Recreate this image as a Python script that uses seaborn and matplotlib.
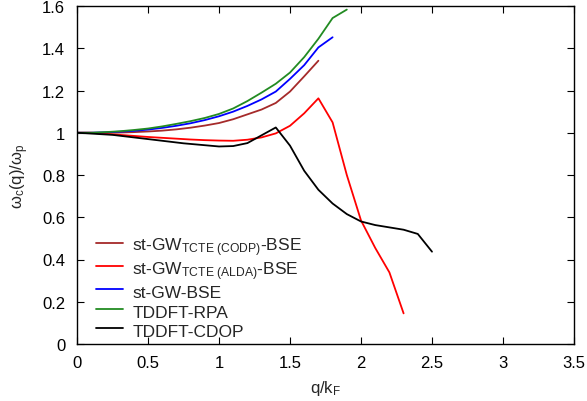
import matplotlib
matplotlib.use("Agg")
import matplotlib.pyplot as plt
import seaborn as sns
import pandas as pd

# ---- data ----
q_green = [0.0, 0.1, 0.2, 0.3, 0.4, 0.5, 0.6, 0.7, 0.8, 0.9, 1.0, 1.1, 1.2, 1.3, 1.4, 1.5, 1.6, 1.7, 1.8, 1.9]
tddft_rpa = [1.0, 1.0, 1.003, 1.007, 1.013, 1.02, 1.03, 1.042, 1.055, 1.07, 1.089, 1.115, 1.15, 1.19, 1.232, 1.285, 1.358, 1.445, 1.543, 1.583]

q_blue = [0.0, 0.1, 0.2, 0.3, 0.4, 0.5, 0.6, 0.7, 0.8, 0.9, 1.0, 1.1, 1.2, 1.3, 1.4, 1.5, 1.6, 1.7, 1.8]
st_gw_bse = [1.0, 1.0, 1.002, 1.005, 1.009, 1.015, 1.023, 1.033, 1.045, 1.06, 1.078, 1.1, 1.127, 1.158, 1.195, 1.255, 1.32, 1.404, 1.452]

q_brown = [0.0, 0.1, 0.2, 0.3, 0.4, 0.5, 0.6, 0.7, 0.8, 0.9, 1.0, 1.1, 1.2, 1.3, 1.4, 1.5, 1.6, 1.7]
st_gw_codp = [1.0, 1.0, 1.0, 1.001, 1.003, 1.006, 1.01, 1.016, 1.024, 1.034, 1.046, 1.064, 1.087, 1.11, 1.141, 1.195, 1.267, 1.341]

q_red = [0.0, 0.1, 0.2, 0.3, 0.4, 0.5, 0.6, 0.7, 0.8, 0.9, 1.0, 1.1, 1.2, 1.3, 1.4, 1.5, 1.6, 1.7, 1.8, 1.9, 2.0, 2.1, 2.2, 2.3]
st_gw_alda = [1.0, 1.0, 0.995, 0.99, 0.985, 0.98, 0.976, 0.972, 0.968, 0.965, 0.963, 0.962, 0.967, 0.978, 0.997, 1.033, 1.092, 1.163, 1.049, 0.8, 0.585, 0.455, 0.339, 0.145]

q_black = [0.0, 0.25, 0.5, 0.75, 1.0, 1.1, 1.2, 1.4, 1.5, 1.6, 1.7, 1.8, 1.9, 2.0, 2.1, 2.2, 2.3, 2.4, 2.5]
tddft_cdop = [1.0, 0.99, 0.97, 0.95, 0.935, 0.937, 0.951, 1.025, 0.939, 0.82, 0.73, 0.665, 0.615, 0.58, 0.563, 0.552, 0.541, 0.521, 0.437]

x_ticks = [0, 0.5, 1, 1.5, 2, 2.5, 3, 3.5]
y_ticks = [0, 0.2, 0.4, 0.6, 0.8, 1.0, 1.2, 1.4, 1.6]
x_tick_labels = ["0", "0.5", "1", "1.5", "2", "2.5", "3", "3.5"]
y_tick_labels = ["0", "0.2", "0.4", "0.6", "0.8", "1", "1.2", "1.4", "1.6"]

series = [
    (r"st-GW$_\mathregular{TCTE\ (CODP)}$-BSE", q_brown, st_gw_codp, "#a52a2a"),
    (r"st-GW$_\mathregular{TCTE\ (ALDA)}$-BSE", q_red, st_gw_alda, "#ff0000"),
    ("st-GW-BSE", q_blue, st_gw_bse, "#0000ff"),
    ("TDDFT-RPA", q_green, tddft_rpa, "#228b22"),
    ("TDDFT-CDOP", q_black, tddft_cdop, "#000000"),
]

sns.set_theme(style="ticks")
plt.rcParams["font.family"] = ["Liberation Sans", "DejaVu Sans"]
plt.rcParams["mathtext.fontset"] = "custom"
plt.rcParams["mathtext.rm"] = "Liberation Sans"
plt.rcParams["mathtext.it"] = "Liberation Sans"
plt.rcParams["mathtext.bf"] = "Liberation Sans"

fig = plt.figure(figsize=(5.87, 4.02), dpi=100)
ax = fig.add_axes([77 / 587, 1 - 345 / 402, (574 - 77) / 587, (345 - 7) / 402])

for label, xs, ys, color in series:
    df = pd.DataFrame({"q": xs, "w": ys})
    sns.lineplot(data=df, x="q", y="w", ax=ax, color=color, linewidth=1.3, label=label)

ax.set_xlim(0, 3.5)
ax.set_ylim(0, 1.6)
ax.set_xticks(x_ticks)
ax.set_xticklabels(x_tick_labels)
ax.set_yticks(y_ticks)
ax.set_yticklabels(y_tick_labels)
ax.tick_params(direction="in", length=5, width=0.8, top=True, right=True, labelsize=12, colors="black")
ax.tick_params(axis="y", pad=8.5)
ax.tick_params(axis="x", pad=8)
for sp in ax.spines.values():
    sp.set_linewidth(1.0)
    sp.set_color("black")

ax.set_xlabel(r"q/k$_\mathregular{F}$", fontsize=12, labelpad=6)
ax.set_ylabel(r"ω$_\mathregular{c}$(q)/ω$_\mathregular{p}$", fontsize=12, labelpad=8)

leg = ax.legend(loc="lower left", bbox_to_anchor=(19 / 497, 4 / 338), frameon=False, fontsize=12.5,
                handlelength=1.55, handletextpad=0.55, handleheight=1.35, labelspacing=0.0,
                borderaxespad=0.0, borderpad=0.0)

fig.savefig("out.png", dpi=100)
